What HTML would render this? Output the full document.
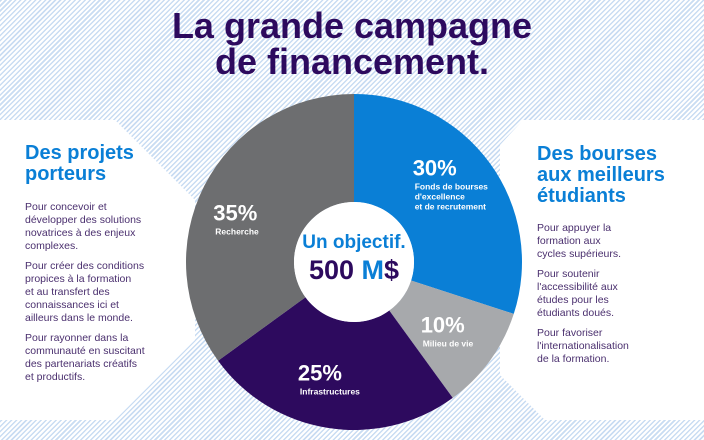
<!DOCTYPE html>
<html><head><meta charset="utf-8">
<style>
html,body{margin:0;padding:0;}
body{width:704px;height:440px;position:relative;overflow:hidden;font-family:"Liberation Sans",sans-serif;
background:repeating-linear-gradient(135deg,#c9dcf2 0 1.5px,#ffffff 1.5px 3.5px);}
.t{position:absolute;margin:0;}
.h{color:#0a7fd6;font-weight:bold;font-size:20px;line-height:21px;}
.p{color:#4a2f6e;font-size:10.5px;line-height:13px;}
</style></head>
<body>
<svg width="704" height="440" style="position:absolute;left:0;top:0">
<polygon points="0,120 115,120 195,200 195,340 115,420 0,420" fill="#fff"/>
<polygon points="523,120 704,120 704,420 545,420 500,375 500,145" fill="#fff"/>
<g id="donut"></g>
</svg>
<div class="t" style="left:0;width:704px;top:8px;text-align:center;color:#2d0a5e;font-weight:bold;font-size:36px;line-height:36px;">La grande campagne<br>de financement.</div>

<div class="t h" style="left:25px;top:143px;">Des projets<br>porteurs</div>
<div class="t p" style="left:25px;top:201px;width:160px;">
Pour concevoir et<br>développer des solutions<br>novatrices à des enjeux<br>complexes.<div style="height:7px"></div>
Pour créer des conditions<br>propices à la formation<br>et au transfert des<br>connaissances ici et<br>ailleurs dans le monde.<div style="height:7px"></div>
Pour rayonner dans la<br>communauté en suscitant<br>des partenariats créatifs<br>et productifs.</div>

<div class="t h" style="left:537px;top:144px;">Des bourses<br>aux meilleurs<br>étudiants</div>
<div class="t p" style="left:537px;top:222px;width:160px;">
Pour appuyer la<br>formation aux<br>cycles supérieurs.<div style="height:7px"></div>
Pour soutenir<br>l'accessibilité aux<br>études pour les<br>étudiants doués.<div style="height:7px"></div>
Pour favoriser<br>l'internationalisation<br>de la formation.</div>

<div class="t" style="left:274px;width:160px;top:232px;text-align:center;font-weight:bold;">
<div style="color:#0a7fd6;font-size:19px;line-height:22px;">Un objectif.</div>
<div style="color:#2d0a5e;font-size:27px;line-height:32px;">500 <span style="color:#0a7fd6">M</span>$</div></div>

<script>
const categories=["Fonds de bourses d'excellence et de recrutement","Milieu de vie","Infrastructures","Recherche"];
const values=[30,10,25,35];
const colors=["#0a7fd6","#a7a9ac","#2d0a5e","#6d6e70"];
const labelLines=[["Fonds de bourses","d'excellence","et de recrutement"],["Milieu de vie"],["Infrastructures"],["Recherche"]];
const nudgeX=[-8,0,-5,0], nudgeY=[-7,7,6,22];
const cx=354,cy=262,R=168,r=60;
const ns="http://www.w3.org/2000/svg";
const g=document.getElementById('donut');
const total=values.reduce((a,b)=>a+b,0);
function pt(a,rad){return [cx+rad*Math.sin(a),cy-rad*Math.cos(a)];}
let a0=0;
values.forEach((v,i)=>{
  const a1=a0+v/total*2*Math.PI;
  const large=(a1-a0)>Math.PI?1:0;
  const p1=pt(a0,R),p2=pt(a1,R),p3=pt(a1,r),p4=pt(a0,r);
  const path=document.createElementNS(ns,'path');
  path.setAttribute('d',`M${p1[0]},${p1[1]}A${R},${R} 0 ${large} 1 ${p2[0]},${p2[1]}L${p3[0]},${p3[1]}A${r},${r} 0 ${large} 0 ${p4[0]},${p4[1]}Z`);
  path.setAttribute('fill',colors[i]);
  
  
  g.appendChild(path);
  const am=(a0+a1)/2;
  const lp=pt(am,(R+r)/2+8);
  const x=lp[0]+nudgeX[i], y=lp[1]+nudgeY[i];
  const tx=document.createElementNS(ns,'text');
  tx.setAttribute('x',x-32);tx.setAttribute('y',y-8);
  tx.setAttribute('fill','#fff');tx.setAttribute('font-weight','bold');tx.setAttribute('font-size','22');
  tx.setAttribute('font-family','Liberation Sans, sans-serif');
  tx.textContent=values[i]+'%';
  
  
  g.appendChild(tx);
  labelLines[i].forEach((ln,j)=>{
    const s=document.createElementNS(ns,'text');
    s.setAttribute('x',x-30);s.setAttribute('y',y+6+j*10);
    s.setAttribute('fill','#fff');s.setAttribute('font-size','8.5');s.setAttribute('font-weight','bold');
    s.setAttribute('font-family','Liberation Sans, sans-serif');
    s.textContent=ln;
    
    
    g.appendChild(s);
  });
  a0=a1;
});
const c=document.createElementNS(ns,'circle');
c.setAttribute('cx',cx);c.setAttribute('cy',cy);c.setAttribute('r',r);c.setAttribute('fill','#fff');


g.appendChild(c);
</script>
</body></html>
